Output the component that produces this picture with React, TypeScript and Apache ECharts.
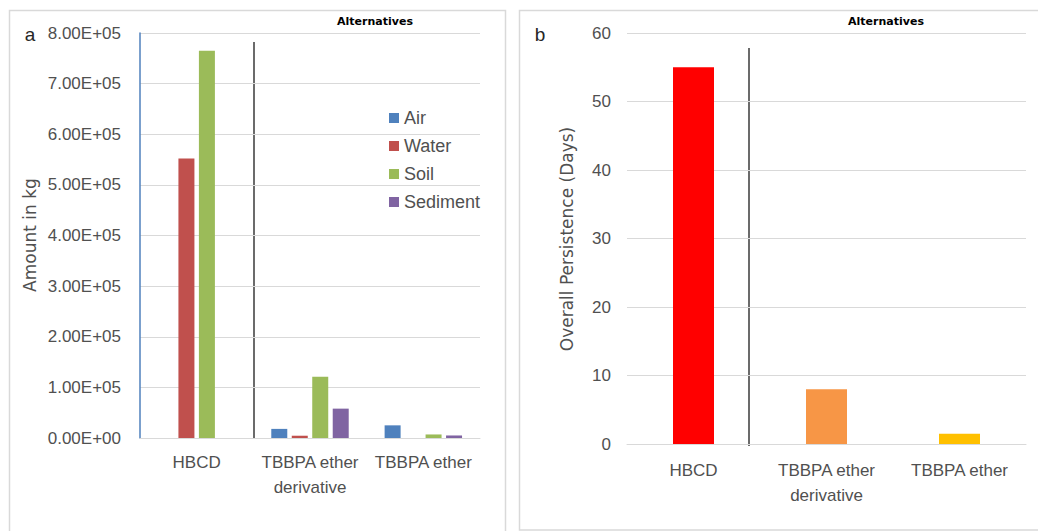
import React, { useEffect, useRef } from "react";
import * as echarts from "echarts";

// Panel a: amount distributed to each compartment (kg)
const categories = ["HBCD", "TBBPA ether\nderivative", "TBBPA ether"];
const compartments = ["Air", "Water", "Soil", "Sediment"];
const air = [0, 18000, 25000];
const water = [552000, 4500, 0];
const soil = [765000, 121000, 7000];
const sediment = [0, 58000, 5000];
const compartmentColors = ["#4F81BD", "#C0504D", "#9BBB59", "#8064A2"];

// Panel b: overall persistence (days)
const persistence = [55, 8, 1.5];
const persistenceColors = ["#FF0000", "#F79646", "#FFC000"];

const FONT = "Liberation Sans, Arial, sans-serif";
const TITLE_FONT = "DejaVu Sans, Liberation Sans, sans-serif";
const GREY_TEXT = "#505050";
const GRID_LINE = "#d9d9d9";

function sci(v: number): string {
  if (v === 0) return "0.00E+00";
  const e = Math.floor(Math.log10(Math.abs(v)) + 1e-9);
  const m = v / Math.pow(10, e);
  return m.toFixed(2) + "E+" + String(e).padStart(2, "0");
}

export default function App() {
  const ref = useRef<HTMLDivElement>(null);

  useEffect(() => {
    if (!ref.current) return;
    const chart = echarts.init(ref.current, null, { renderer: "svg" });

    const seriesA = [air, water, soil, sediment].map((d, i) => ({
      name: compartments[i],
      type: "bar" as const,
      xAxisIndex: 0,
      yAxisIndex: 0,
      data: d,
      barWidth: 16,
      barGap: "28%",
      itemStyle: { color: compartmentColors[i] },
    }));

    chart.setOption({
      animation: false,
      backgroundColor: "#ffffff",
      textStyle: { fontFamily: FONT },
      grid: [
        { left: 140, top: 33, width: 340, height: 405 },
        { left: 627, top: 33, width: 399, height: 411 },
      ],
      legend: {
        data: compartments,
        orient: "vertical",
        left: 384,
        top: 104,
        itemWidth: 10,
        itemHeight: 10,
        itemGap: 10,
        icon: "rect",
        textStyle: { fontSize: 18, color: GREY_TEXT, fontFamily: FONT, lineHeight: 18 },
      },
      xAxis: [
        {
          type: "category",
          gridIndex: 0,
          data: categories,
          axisTick: { show: false },
          axisLine: { lineStyle: { color: GRID_LINE } },
          axisLabel: { fontSize: 17, color: GREY_TEXT, lineHeight: 25, margin: 12, interval: 0 },
        },
        {
          type: "category",
          gridIndex: 1,
          data: categories,
          axisTick: { show: false },
          axisLine: { lineStyle: { color: GRID_LINE } },
          axisLabel: { fontSize: 17, color: GREY_TEXT, lineHeight: 25, margin: 14, interval: 0 },
        },
      ],
      yAxis: [
        {
          type: "value",
          gridIndex: 0,
          min: 0,
          max: 800000,
          interval: 100000,
          axisLine: { show: true, lineStyle: { color: "#4F81BD", width: 1.5 } },
          axisTick: { show: false },
          splitLine: { lineStyle: { color: GRID_LINE } },
          axisLabel: { fontSize: 17, color: GREY_TEXT, margin: 19, formatter: sci },
        },
        {
          type: "value",
          gridIndex: 1,
          min: 0,
          max: 60,
          interval: 10,
          axisLine: { show: false },
          axisTick: { show: false },
          splitLine: { lineStyle: { color: GRID_LINE } },
          axisLabel: { fontSize: 17, color: GREY_TEXT, margin: 16 },
        },
      ],
      series: [
        ...seriesA,
        {
          name: "Overall Persistence",
          type: "bar",
          xAxisIndex: 1,
          yAxisIndex: 1,
          barWidth: 41,
          data: persistence.map((v, i) => ({ value: v, itemStyle: { color: persistenceColors[i] } })),
        },
      ],
      graphic: [
        // panel frames
        { type: "rect", silent: true, shape: { x: 9.5, y: 10.5, width: 496, height: 540 }, style: { fill: "none", stroke: GRID_LINE, lineWidth: 1.5 } },
        { type: "rect", silent: true, shape: { x: 519.5, y: 10.5, width: 540, height: 519.5 }, style: { fill: "none", stroke: GRID_LINE, lineWidth: 1.5 } },
        // separators between HBCD and the alternatives
        { type: "line", silent: true, shape: { x1: 254, y1: 42, x2: 254, y2: 438 }, style: { stroke: "#3a3a3a", lineWidth: 1.5 } },
        { type: "line", silent: true, shape: { x1: 749, y1: 48, x2: 749, y2: 446 }, style: { stroke: "#3a3a3a", lineWidth: 1.5 } },
        // headings
        { type: "text", x: 375, y: 21, style: { text: "Alternatives", font: "bold 11px DejaVu Sans, sans-serif", fill: "#000", textAlign: "center", textVerticalAlign: "middle" } },
        { type: "text", x: 886, y: 21, style: { text: "Alternatives", font: "bold 11px DejaVu Sans, sans-serif", fill: "#000", textAlign: "center", textVerticalAlign: "middle" } },
        // panel letters
        { type: "text", x: 30, y: 34, style: { text: "a", font: "19px Liberation Sans, Arial, sans-serif", fill: "#262626", textAlign: "center", textVerticalAlign: "middle" } },
        { type: "text", x: 540, y: 34, style: { text: "b", font: "19px Liberation Sans, Arial, sans-serif", fill: "#262626", textAlign: "center", textVerticalAlign: "middle" } },
        // axis titles
        { type: "text", x: 30, y: 235, rotation: Math.PI / 2, style: { text: "Amount in kg", font: "17px " + TITLE_FONT, fill: GREY_TEXT, textAlign: "center", textVerticalAlign: "middle" } },
        { type: "text", x: 567, y: 239, rotation: Math.PI / 2, style: { text: "Overall Persistence (Days)", font: "17px " + TITLE_FONT, fill: GREY_TEXT, textAlign: "center", textVerticalAlign: "middle" } },
      ],
    });

    return () => chart.dispose();
  }, []);

  return (
    <div
      ref={ref}
      style={{ position: "fixed", left: 0, top: 0, width: 1038, height: 531, background: "#fff" }}
    />
  );
}
